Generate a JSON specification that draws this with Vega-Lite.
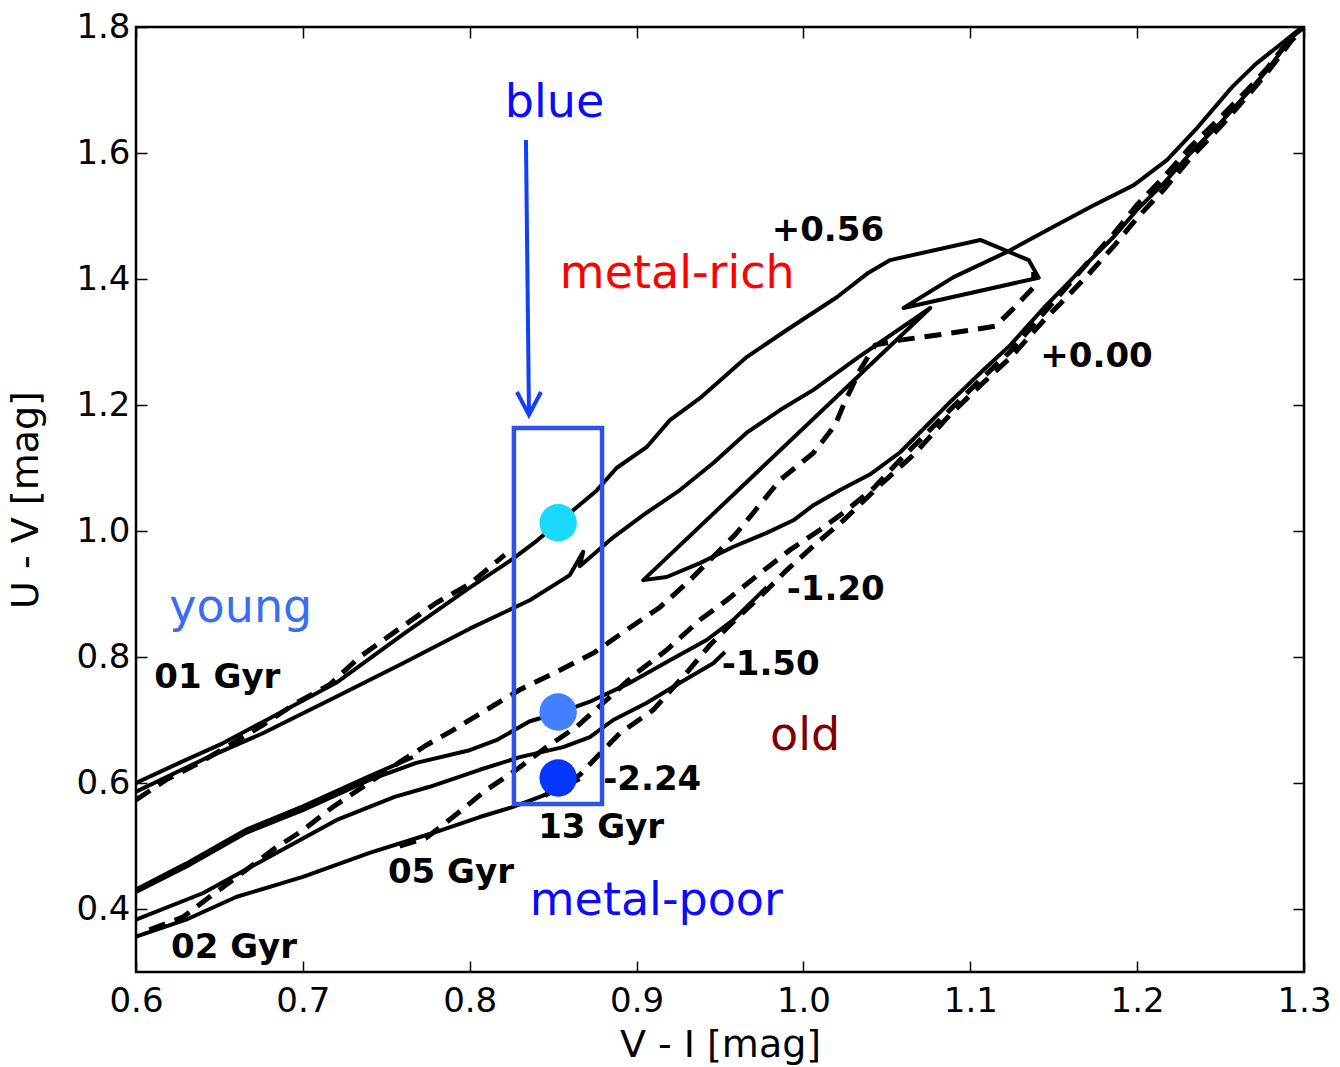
{
  "$schema": "https://vega.github.io/schema/vega-lite/v6.json",
  "width": 1168,
  "height": 945,
  "autosize": {"type": "none"},
  "padding": {"left": 136, "top": 27, "right": 36, "bottom": 95},
  "background": "white",
  "config": {
    "view": {"stroke": "black", "strokeWidth": 2.5},
    "font": "DejaVu Sans",
    "axis": {
      "grid": false, "domain": false, "ticks": true, "tickColor": "black", "tickWidth": 1.5,
      "labelFont": "DejaVu Sans", "labelFontSize": 34, "labelColor": "black",
      "titleFont": "DejaVu Sans", "titleFontSize": 38, "titleFontWeight": "normal", "titleColor": "black",
      "labelFlush": false, "labelOverlap": false, "labelBound": false
    }
  },
  "datasets": {
    "solid": [
      {"s":"S1","i":0,"x":0.600,"y":0.600},{"s":"S1","i":1,"x":0.626,"y":0.632},{"s":"S1","i":2,"x":0.652,"y":0.663},{"s":"S1","i":3,"x":0.676,"y":0.697},{"s":"S1","i":4,"x":0.720,"y":0.759},{"s":"S1","i":5,"x":0.760,"y":0.836},{"s":"S1","i":6,"x":0.800,"y":0.910},{"s":"S1","i":7,"x":0.826,"y":0.956},{"s":"S1","i":8,"x":0.840,"y":0.984},{"s":"S1","i":9,"x":0.876,"y":1.064},{"s":"S1","i":10,"x":0.888,"y":1.100},{"s":"S1","i":11,"x":0.906,"y":1.133},{"s":"S1","i":12,"x":0.920,"y":1.176},{"s":"S1","i":13,"x":0.939,"y":1.213},{"s":"S1","i":14,"x":0.966,"y":1.276},{"s":"S1","i":15,"x":0.990,"y":1.319},{"s":"S1","i":16,"x":1.020,"y":1.371},{"s":"S1","i":17,"x":1.039,"y":1.410},{"s":"S1","i":18,"x":1.052,"y":1.430},{"s":"S1","i":19,"x":1.106,"y":1.462},{"s":"S1","i":20,"x":1.135,"y":1.430},{"s":"S1","i":21,"x":1.141,"y":1.402},{"s":"S1","i":22,"x":1.060,"y":1.354},{"s":"S1","i":23,"x":1.090,"y":1.403},{"s":"S1","i":24,"x":1.122,"y":1.443},{"s":"S1","i":25,"x":1.154,"y":1.489},{"s":"S1","i":26,"x":1.174,"y":1.517},{"s":"S1","i":27,"x":1.198,"y":1.549},{"s":"S1","i":28,"x":1.218,"y":1.589},{"s":"S1","i":29,"x":1.235,"y":1.637},{"s":"S1","i":30,"x":1.257,"y":1.705},{"s":"S1","i":31,"x":1.271,"y":1.741},{"s":"S1","i":32,"x":1.298,"y":1.798},
      {"s":"S2","i":0,"x":0.600,"y":0.586},{"s":"S2","i":1,"x":0.640,"y":0.637},{"s":"S2","i":2,"x":0.676,"y":0.679},{"s":"S2","i":3,"x":0.720,"y":0.737},{"s":"S2","i":4,"x":0.760,"y":0.790},{"s":"S2","i":5,"x":0.800,"y":0.845},{"s":"S2","i":6,"x":0.836,"y":0.890},{"s":"S2","i":7,"x":0.860,"y":0.930},{"s":"S2","i":8,"x":0.868,"y":0.967},{"s":"S2","i":9,"x":0.866,"y":0.944},{"s":"S2","i":10,"x":0.886,"y":0.990},{"s":"S2","i":11,"x":0.906,"y":1.029},{"s":"S2","i":12,"x":0.926,"y":1.065},{"s":"S2","i":13,"x":0.946,"y":1.108},{"s":"S2","i":14,"x":0.966,"y":1.156},{"s":"S2","i":15,"x":0.986,"y":1.192},{"s":"S2","i":16,"x":1.006,"y":1.224},{"s":"S2","i":17,"x":1.033,"y":1.276},{"s":"S2","i":18,"x":1.076,"y":1.354},{"s":"S2","i":19,"x":0.904,"y":0.922},{"s":"S2","i":20,"x":0.918,"y":0.927},{"s":"S2","i":21,"x":0.938,"y":0.949},{"s":"S2","i":22,"x":0.958,"y":0.975},{"s":"S2","i":23,"x":0.978,"y":0.997},{"s":"S2","i":24,"x":0.994,"y":1.017},{"s":"S2","i":25,"x":1.006,"y":1.041},{"s":"S2","i":26,"x":1.022,"y":1.065},{"s":"S2","i":27,"x":1.040,"y":1.090},{"s":"S2","i":28,"x":1.058,"y":1.125},{"s":"S2","i":29,"x":1.088,"y":1.205},{"s":"S2","i":30,"x":1.108,"y":1.256},{"s":"S2","i":31,"x":1.124,"y":1.295},{"s":"S2","i":32,"x":1.144,"y":1.354},{"s":"S2","i":33,"x":1.158,"y":1.392},{"s":"S2","i":34,"x":1.170,"y":1.425},{"s":"S2","i":35,"x":1.186,"y":1.467},{"s":"S2","i":36,"x":1.200,"y":1.510},{"s":"S2","i":37,"x":1.216,"y":1.552},{"s":"S2","i":38,"x":1.232,"y":1.600},{"s":"S2","i":39,"x":1.250,"y":1.648},{"s":"S2","i":40,"x":1.266,"y":1.695},{"s":"S2","i":41,"x":1.278,"y":1.732},{"s":"S2","i":42,"x":1.293,"y":1.784},{"s":"S2","i":43,"x":1.299,"y":1.798},
      {"s":"B1","i":0,"x":0.600,"y":0.427},{"s":"B1","i":1,"x":0.630,"y":0.467},{"s":"B1","i":2,"x":0.666,"y":0.521},{"s":"B1","i":3,"x":0.700,"y":0.557},{"s":"B1","i":4,"x":0.740,"y":0.605},{"s":"B1","i":5,"x":0.768,"y":0.632},{"s":"B1","i":6,"x":0.800,"y":0.652},{"s":"B1","i":7,"x":0.816,"y":0.668},{"s":"B1","i":8,"x":0.836,"y":0.698},{"s":"B1","i":9,"x":0.853,"y":0.711},{"s":"B1","i":10,"x":0.872,"y":0.729},{"s":"B1","i":11,"x":0.896,"y":0.759},{"s":"B1","i":12,"x":0.920,"y":0.795},{"s":"B1","i":13,"x":0.942,"y":0.827},{"s":"B1","i":14,"x":0.958,"y":0.859},{"s":"B1","i":15,"x":0.978,"y":0.911},
      {"s":"B4","i":0,"x":0.600,"y":0.431},{"s":"B4","i":1,"x":0.630,"y":0.472},{"s":"B4","i":2,"x":0.666,"y":0.526},{"s":"B4","i":3,"x":0.700,"y":0.563},{"s":"B4","i":4,"x":0.740,"y":0.611},{"s":"B4","i":5,"x":0.766,"y":0.641},
      {"s":"B2","i":0,"x":0.600,"y":0.383},{"s":"B2","i":1,"x":0.640,"y":0.425},{"s":"B2","i":2,"x":0.680,"y":0.483},{"s":"B2","i":3,"x":0.720,"y":0.541},{"s":"B2","i":4,"x":0.755,"y":0.578},{"s":"B2","i":5,"x":0.776,"y":0.594},{"s":"B2","i":6,"x":0.806,"y":0.621},{"s":"B2","i":7,"x":0.830,"y":0.641},{"s":"B2","i":8,"x":0.856,"y":0.657},{"s":"B2","i":9,"x":0.872,"y":0.673},{"s":"B2","i":10,"x":0.886,"y":0.700},{"s":"B2","i":11,"x":0.906,"y":0.727},{"s":"B2","i":12,"x":0.926,"y":0.759},{"s":"B2","i":13,"x":0.946,"y":0.790},{"s":"B2","i":14,"x":0.953,"y":0.808},
      {"s":"B3","i":0,"x":0.600,"y":0.356},{"s":"B3","i":1,"x":0.630,"y":0.383},{"s":"B3","i":2,"x":0.660,"y":0.419},{"s":"B3","i":3,"x":0.700,"y":0.451},{"s":"B3","i":4,"x":0.740,"y":0.489},{"s":"B3","i":5,"x":0.776,"y":0.519},{"s":"B3","i":6,"x":0.806,"y":0.546},{"s":"B3","i":7,"x":0.826,"y":0.562},{"s":"B3","i":8,"x":0.842,"y":0.578},{"s":"B3","i":9,"x":0.853,"y":0.590},{"s":"B3","i":10,"x":0.866,"y":0.606}
    ],
    "dashed": [
      {"s":"D1","i":0,"x":0.600,"y":0.573},{"s":"D1","i":1,"x":0.618,"y":0.605},{"s":"D1","i":2,"x":0.638,"y":0.632},{"s":"D1","i":3,"x":0.656,"y":0.660},{"s":"D1","i":4,"x":0.676,"y":0.692},{"s":"D1","i":5,"x":0.696,"y":0.727},{"s":"D1","i":6,"x":0.716,"y":0.756},{"s":"D1","i":7,"x":0.734,"y":0.800},{"s":"D1","i":8,"x":0.760,"y":0.849},{"s":"D1","i":9,"x":0.780,"y":0.886},{"s":"D1","i":10,"x":0.800,"y":0.916},{"s":"D1","i":11,"x":0.821,"y":0.962},
      {"s":"D2","i":0,"x":0.608,"y":0.367},{"s":"D2","i":1,"x":0.628,"y":0.387},{"s":"D2","i":2,"x":0.644,"y":0.419},{"s":"D2","i":3,"x":0.658,"y":0.446},{"s":"D2","i":4,"x":0.682,"y":0.494},{"s":"D2","i":5,"x":0.700,"y":0.525},{"s":"D2","i":6,"x":0.718,"y":0.562},{"s":"D2","i":7,"x":0.758,"y":0.633},{"s":"D2","i":8,"x":0.774,"y":0.660},{"s":"D2","i":9,"x":0.790,"y":0.684},{"s":"D2","i":10,"x":0.810,"y":0.716},{"s":"D2","i":11,"x":0.830,"y":0.748},{"s":"D2","i":12,"x":0.854,"y":0.779},{"s":"D2","i":13,"x":0.874,"y":0.806},{"s":"D2","i":14,"x":0.894,"y":0.843},{"s":"D2","i":15,"x":0.914,"y":0.879},{"s":"D2","i":16,"x":0.932,"y":0.922},{"s":"D2","i":17,"x":0.950,"y":0.970},{"s":"D2","i":18,"x":0.959,"y":0.994},{"s":"D2","i":19,"x":0.970,"y":1.029},{"s":"D2","i":20,"x":0.986,"y":1.081},{"s":"D2","i":21,"x":1.006,"y":1.124},{"s":"D2","i":22,"x":1.019,"y":1.168},{"s":"D2","i":23,"x":1.024,"y":1.200},{"s":"D2","i":24,"x":1.034,"y":1.256},{"s":"D2","i":25,"x":1.043,"y":1.295},{"s":"D2","i":26,"x":1.058,"y":1.303},{"s":"D2","i":27,"x":1.088,"y":1.314},{"s":"D2","i":28,"x":1.115,"y":1.325},{"s":"D2","i":29,"x":1.125,"y":1.351},{"s":"D2","i":30,"x":1.138,"y":1.387},{"s":"D2","i":31,"x":1.138,"y":1.411},
      {"s":"D4","i":0,"x":0.758,"y":0.500},{"s":"D4","i":1,"x":0.774,"y":0.513},{"s":"D4","i":2,"x":0.790,"y":0.546},{"s":"D4","i":3,"x":0.810,"y":0.589},{"s":"D4","i":4,"x":0.828,"y":0.621},{"s":"D4","i":5,"x":0.846,"y":0.657},{"s":"D4","i":6,"x":0.864,"y":0.689},{"s":"D4","i":7,"x":0.880,"y":0.727},{"s":"D4","i":8,"x":0.900,"y":0.775},{"s":"D4","i":9,"x":0.918,"y":0.811},{"s":"D4","i":10,"x":0.938,"y":0.859},{"s":"D4","i":11,"x":0.954,"y":0.890},{"s":"D4","i":12,"x":0.974,"y":0.933},{"s":"D4","i":13,"x":0.992,"y":0.970},{"s":"D4","i":14,"x":1.010,"y":1.002},{"s":"D4","i":15,"x":1.026,"y":1.033},{"s":"D4","i":16,"x":1.042,"y":1.068},{"s":"D4","i":17,"x":1.058,"y":1.113},{"s":"D4","i":18,"x":1.088,"y":1.193},{"s":"D4","i":19,"x":1.108,"y":1.245},{"s":"D4","i":20,"x":1.124,"y":1.285},{"s":"D4","i":21,"x":1.144,"y":1.346},{"s":"D4","i":22,"x":1.158,"y":1.388},{"s":"D4","i":23,"x":1.170,"y":1.425},{"s":"D4","i":24,"x":1.186,"y":1.472},{"s":"D4","i":25,"x":1.200,"y":1.518},{"s":"D4","i":26,"x":1.216,"y":1.562},{"s":"D4","i":27,"x":1.232,"y":1.610},{"s":"D4","i":28,"x":1.250,"y":1.657},{"s":"D4","i":29,"x":1.266,"y":1.700},{"s":"D4","i":30,"x":1.278,"y":1.735},{"s":"D4","i":31,"x":1.293,"y":1.786},{"s":"D4","i":32,"x":1.300,"y":1.800},
      {"s":"D5","i":0,"x":0.845,"y":0.580},{"s":"D5","i":1,"x":0.866,"y":0.613},{"s":"D5","i":2,"x":0.876,"y":0.641},{"s":"D5","i":3,"x":0.890,"y":0.679},{"s":"D5","i":4,"x":0.910,"y":0.716},{"s":"D5","i":5,"x":0.930,"y":0.775},{"s":"D5","i":6,"x":0.944,"y":0.819},{"s":"D5","i":7,"x":0.958,"y":0.856},{"s":"D5","i":8,"x":0.978,"y":0.906},{"s":"D5","i":9,"x":0.990,"y":0.938},{"s":"D5","i":10,"x":1.008,"y":0.981},{"s":"D5","i":11,"x":1.024,"y":1.017},{"s":"D5","i":12,"x":1.046,"y":1.073},{"s":"D5","i":13,"x":1.066,"y":1.121},{"s":"D5","i":14,"x":1.088,"y":1.185},{"s":"D5","i":15,"x":1.108,"y":1.236},{"s":"D5","i":16,"x":1.124,"y":1.275},{"s":"D5","i":17,"x":1.144,"y":1.334},{"s":"D5","i":18,"x":1.158,"y":1.372},{"s":"D5","i":19,"x":1.170,"y":1.405},{"s":"D5","i":20,"x":1.186,"y":1.452},{"s":"D5","i":21,"x":1.200,"y":1.497},{"s":"D5","i":22,"x":1.216,"y":1.542},{"s":"D5","i":23,"x":1.232,"y":1.592},{"s":"D5","i":24,"x":1.250,"y":1.642},{"s":"D5","i":25,"x":1.266,"y":1.690},{"s":"D5","i":26,"x":1.278,"y":1.728},{"s":"D5","i":27,"x":1.293,"y":1.780},{"s":"D5","i":28,"x":1.300,"y":1.797}
    ],
    "box": [{"x1": 0.8265, "x2": 0.8793, "y1": 0.5667, "y2": 1.1635}],
    "shaft": [{"x": 0.8337, "y": 1.6206, "x2": 0.8355, "y2": 1.19}],
    "head": [{"i":0,"x":0.8283,"y":1.2206},{"i":1,"x":0.8355,"y":1.1841},{"i":2,"x":0.8427,"y":1.2206}],
    "dots": [
      {"g":"young metal-rich","x":0.853,"y":1.013},
      {"g":"intermediate","x":0.853,"y":0.7127},
      {"g":"old metal-poor","x":0.853,"y":0.608}
    ],
    "bold": [
      {"t":"+0.56","x":0.981,"y":1.460},
      {"t":"+0.00","x":1.142,"y":1.260},
      {"t":"-1.20","x":0.990,"y":0.890},
      {"t":"-1.50","x":0.951,"y":0.771},
      {"t":"-2.24","x":0.880,"y":0.589},
      {"t":"13 Gyr","x":0.841,"y":0.513},
      {"t":"05 Gyr","x":0.751,"y":0.441},
      {"t":"02 Gyr","x":0.621,"y":0.322},
      {"t":"01 Gyr","x":0.611,"y":0.751}
    ],
    "words": [
      {"t":"blue","x":0.821,"y":1.657},
      {"t":"metal-rich","x":0.854,"y":1.386},
      {"t":"young","x":0.620,"y":0.856},
      {"t":"old","x":0.980,"y":0.652},
      {"t":"metal-poor","x":0.836,"y":0.390}
    ]
  },
  "layer": [
    {
      "data": {"name": "solid"},
      "mark": {"type": "line", "color": "black", "strokeWidth": 4, "strokeJoin": "round", "clip": true},
      "encoding": {
        "x": {"field": "x", "type": "quantitative", "scale": {"domain": [0.6, 1.3], "nice": false, "zero": false},
              "axis": {"orient": "bottom", "values": [0.6,0.7,0.8,0.9,1.0,1.1,1.2,1.3], "format": ".1f", "title": "V - I [mag]", "tickSize": -11, "labelPadding": 23, "titlePadding": 8}},
        "y": {"field": "y", "type": "quantitative", "scale": {"domain": [0.3, 1.8], "nice": false, "zero": false},
              "axis": {"orient": "left", "values": [0.4,0.6,0.8,1.0,1.2,1.4,1.6,1.8], "format": ".1f", "title": "U - V [mag]", "tickSize": -11, "labelPadding": 17, "titlePadding": 30}},
        "detail": {"field": "s", "type": "nominal"},
        "order": {"field": "i", "type": "quantitative"}
      }
    },
    {
      "data": {"name": "dashed"},
      "mark": {"type": "line", "color": "black", "strokeWidth": 5, "strokeDash": [17, 10], "clip": true},
      "encoding": {
        "x": {"field": "x", "type": "quantitative", "scale": {"domain": [0.6, 1.3], "nice": false, "zero": false},
              "axis": {"orient": "top", "values": [0.6,0.7,0.8,0.9,1.0,1.1,1.2,1.3], "labels": false, "title": null, "tickSize": -11}},
        "y": {"field": "y", "type": "quantitative", "scale": {"domain": [0.3, 1.8], "nice": false, "zero": false},
              "axis": {"orient": "right", "values": [0.4,0.6,0.8,1.0,1.2,1.4,1.6,1.8], "labels": false, "title": null, "tickSize": -11}},
        "detail": {"field": "s", "type": "nominal"},
        "order": {"field": "i", "type": "quantitative"}
      }
    },
    {
      "data": {"name": "box"},
      "mark": {"type": "rect", "filled": false, "fill": null, "stroke": "#3050ea", "strokeWidth": 4.5},
      "encoding": {
        "x": {"field": "x1", "type": "quantitative", "scale": {"domain": [0.6, 1.3], "nice": false, "zero": false}, "axis": null},
        "x2": {"field": "x2"},
        "y": {"field": "y1", "type": "quantitative", "scale": {"domain": [0.3, 1.8], "nice": false, "zero": false}, "axis": null},
        "y2": {"field": "y2"}
      }
    },
    {
      "data": {"name": "shaft"},
      "mark": {"type": "rule", "color": "#1040ff", "strokeWidth": 4},
      "encoding": {
        "x": {"field": "x", "type": "quantitative", "scale": {"domain": [0.6, 1.3], "nice": false, "zero": false}, "axis": null},
        "x2": {"field": "x2"},
        "y": {"field": "y", "type": "quantitative", "scale": {"domain": [0.3, 1.8], "nice": false, "zero": false}, "axis": null},
        "y2": {"field": "y2"}
      }
    },
    {
      "data": {"name": "head"},
      "mark": {"type": "line", "color": "#1040ff", "strokeWidth": 4, "strokeJoin": "miter"},
      "encoding": {
        "x": {"field": "x", "type": "quantitative", "scale": {"domain": [0.6, 1.3], "nice": false, "zero": false}, "axis": null},
        "y": {"field": "y", "type": "quantitative", "scale": {"domain": [0.3, 1.8], "nice": false, "zero": false}, "axis": null},
        "order": {"field": "i", "type": "quantitative"}
      }
    },
    {
      "data": {"name": "dots"},
      "mark": {"type": "point", "filled": true, "opacity": 1, "size": 1400, "shape": "circle", "strokeWidth": 0},
      "encoding": {
        "x": {"field": "x", "type": "quantitative", "scale": {"domain": [0.6, 1.3], "nice": false, "zero": false}, "axis": null},
        "y": {"field": "y", "type": "quantitative", "scale": {"domain": [0.3, 1.8], "nice": false, "zero": false}, "axis": null},
        "color": {"field": "g", "type": "nominal", "scale": {"domain": ["young metal-rich", "intermediate", "old metal-poor"], "range": ["#19d9ff", "#4181ff", "#0535ff"]}, "legend": null}
      }
    },
    {
      "data": {"name": "bold"},
      "mark": {"type": "text", "font": "DejaVu Sans", "fontWeight": "bold", "fontSize": 34, "align": "left", "baseline": "alphabetic", "color": "black"},
      "encoding": {
        "x": {"field": "x", "type": "quantitative", "scale": {"domain": [0.6, 1.3], "nice": false, "zero": false}, "axis": null},
        "y": {"field": "y", "type": "quantitative", "scale": {"domain": [0.3, 1.8], "nice": false, "zero": false}, "axis": null},
        "text": {"field": "t"}
      }
    },
    {
      "data": {"name": "words"},
      "mark": {"type": "text", "font": "DejaVu Sans", "fontSize": 46, "align": "left", "baseline": "alphabetic"},
      "encoding": {
        "x": {"field": "x", "type": "quantitative", "scale": {"domain": [0.6, 1.3], "nice": false, "zero": false}, "axis": null},
        "y": {"field": "y", "type": "quantitative", "scale": {"domain": [0.3, 1.8], "nice": false, "zero": false}, "axis": null},
        "text": {"field": "t"},
        "color": {"field": "t", "type": "nominal", "scale": {"domain": ["blue", "metal-rich", "young", "old", "metal-poor"], "range": ["#0a0aff", "#ff0000", "#3a6ef2", "#800000", "#0a0aff"]}, "legend": null}
      }
    }
  ],
  "resolve": {"axis": {"x": "independent", "y": "independent"}, "scale": {"color": "independent"}}
}
